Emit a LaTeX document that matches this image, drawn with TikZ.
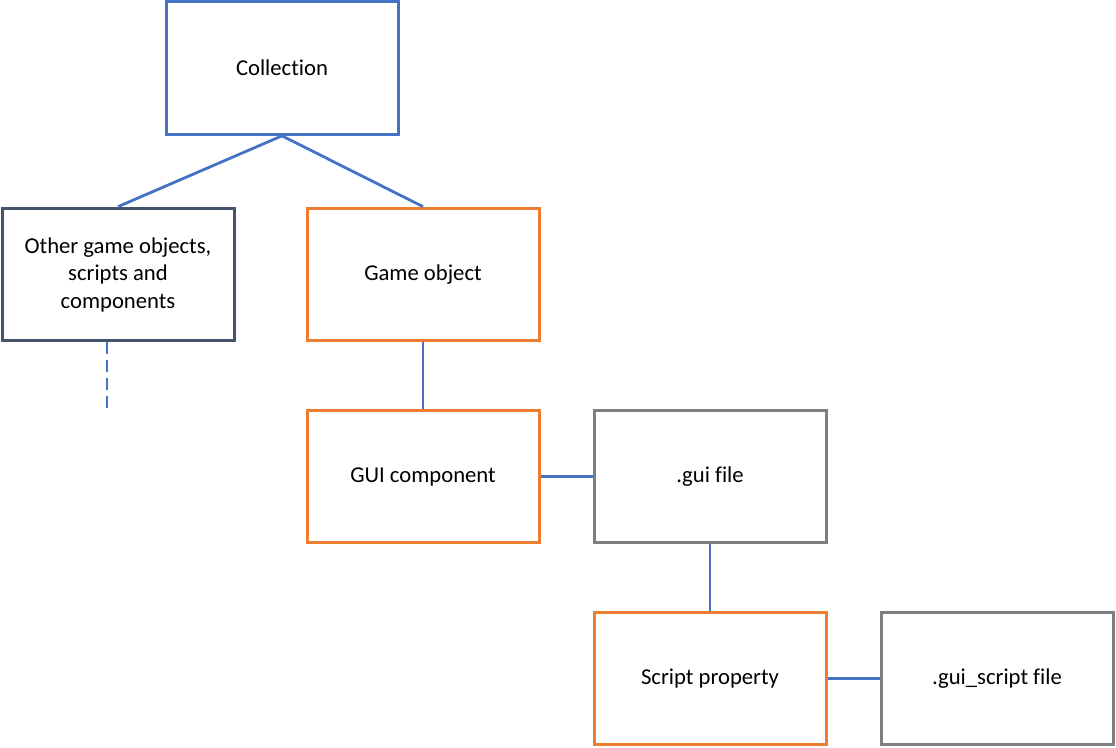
\documentclass[tikz,border=0pt]{standalone}
\usepackage{fontspec}
\setmainfont{Carlito}[Ligatures=NoCommon]
\usepackage{tikz}
\usetikzlibrary{positioning,calc}

\definecolor{linkblue}{HTML}{4472C4}
\definecolor{goorange}{HTML}{ED7D31}
\definecolor{filegray}{HTML}{7F7F7F}
\definecolor{slate}{HTML}{44546A}

\begin{document}
\begin{tikzpicture}[x=0.75pt,y=-0.75pt,
  box/.style={draw,line width=2.25pt,minimum width=174pt,minimum height=99.5pt,
    inner sep=0pt,align=center,font=\fontsize{17}{20.6}\selectfont},
  link/.style={draw=linkblue,line width=2.1pt}]
\useasboundingbox (0,0) rectangle (1116,748);
\node[box,draw=linkblue] (coll) at (282,68) {Collection};
\node[box,draw=slate] (other) at (118,274.5) {Other game objects,\\scripts and\\components};
\node[box,draw=goorange] (gobj) at (423,274.5) {Game object};
\node[box,draw=goorange] (guicomp) at (423,476.5) {GUI component};
\node[box,draw=filegray] (guifile) at (710,476.5) {.gui file};
\node[box,draw=goorange] (scriptprop) at (710,678.5) {Script property};
\node[box,draw=filegray] (scriptfile) at (997,678.5) {.gui\_script file};
% connectors
\draw[link] (coll.south) -- (other.north);
\draw[link] (coll.south) -- (gobj.north);
\draw[link] (gobj) -- (guicomp);
\draw[link] (guicomp) -- (guifile);
\draw[link] (guifile) -- (scriptprop);
\draw[link] (scriptprop) -- (scriptfile);
\coordinate (more) at (107,410);
\draw[link,dash pattern=on 9pt off 4.5pt] (other.south -| more) -- (more);
\end{tikzpicture}
\end{document}
